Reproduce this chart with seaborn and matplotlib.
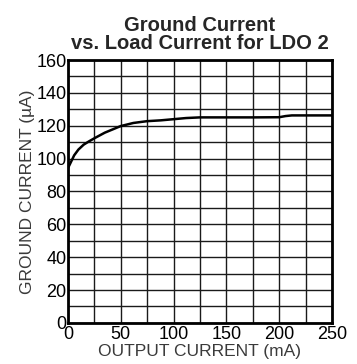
import matplotlib
matplotlib.use('Agg')
import matplotlib.pyplot as plt
import seaborn as sns
import pandas as pd
import numpy as np

# curve
output_current_ma = [0, 3, 6, 10, 15, 20, 26, 35, 50, 62, 75, 88, 100, 112, 125, 150, 175, 200, 206, 212, 225, 250]
ground_current_ua = [94, 98, 102, 105.5, 108.5, 110.5, 112.7, 115.8, 119.8, 121.7, 122.8, 123.3, 124, 124.7, 125.1, 125.1, 125.1, 125.2, 125.9, 126.3, 126.3, 126.3]

x_ticks = [0, 50, 100, 150, 200, 250]
y_ticks = [0, 20, 40, 60, 80, 100, 120, 140, 160]

sns.set_style('white')
plt.rcParams['font.family'] = ['Liberation Sans', 'DejaVu Sans']

df = pd.DataFrame({'x': output_current_ma, 'y': ground_current_ua})

fig, ax = plt.subplots(figsize=(3.57, 3.64), dpi=100)
fig.subplots_adjust(left=0.19, right=0.93, top=0.835, bottom=0.113)

sns.lineplot(data=df, x='x', y='y', ax=ax, color='black', linewidth=1.8)

ax.set_xlim(0, 250)
ax.set_ylim(0, 160)
ax.set_xticks(x_ticks)
ax.set_yticks(y_ticks)
ax.set_xticks(np.arange(0, 251, 25), minor=True)
ax.set_yticks(np.arange(0, 161, 10), minor=True)
ax.grid(which='both', color='#1a1a1a', linewidth=1.0)
ax.set_axisbelow(True)
ax.tick_params(which='both', length=0, labelsize=13, colors='black')
ax.tick_params(axis='x', pad=2)
ax.tick_params(axis='y', pad=1)
for s in ax.spines.values():
    s.set_color('black')
    s.set_linewidth(2)

ax.set_xlabel('OUTPUT CURRENT (mA)', fontsize=12.5, color='#3a3a3a', labelpad=1)
ax.set_ylabel('GROUND CURRENT (µA)', fontsize=12.5, color='#3a3a3a', labelpad=1)
ax.set_title('Ground Current\nvs. Load Current for LDO 2', fontsize=14.5, fontweight='bold',
             linespacing=0.95, pad=8)

fig.savefig('out.png', dpi=100)
